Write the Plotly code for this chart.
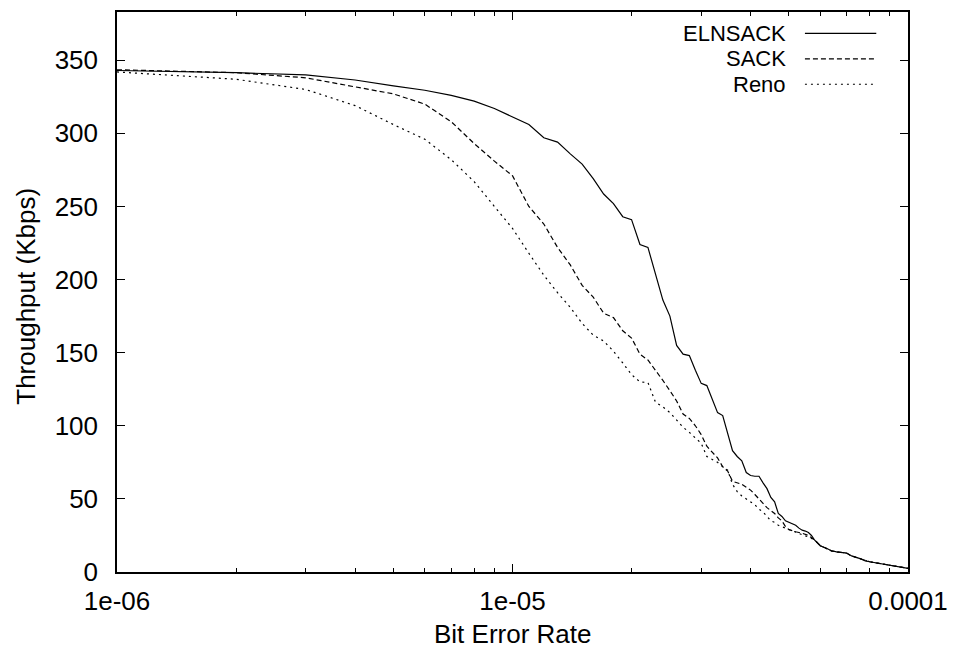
import plotly.graph_objects as go

# Bit error rate samples (in units of 1e-6) and throughput (Kbps)
eln_k = list(range(1, 60)) + list(range(60, 101, 2))
eln_y = [343, 341.5, 340, 336.5, 332.5, 329.5, 326, 322, 317, 311,
         306, 297, 294, 286, 279, 269, 258.5, 252, 243, 241,
         224, 222, 203, 186, 175, 155, 149, 148, 138, 129,
         127.5, 118, 109, 107, 95, 83, 79, 76, 68, 66,
         65.5, 65.5, 61, 57, 51, 48, 40, 38, 35, 34,
         33, 32, 30, 28.6, 28, 27, 25, 22, 20,
         18, 16.4, 14.5, 13.8, 13.4, 13, 11, 10, 9, 7.5,
         7, 6.5, 6, 5.6, 5.2, 5, 4.5, 3.8, 3.2, 2.8, 2.5]

sack_k = list(range(1, 51)) + [52, 54, 56, 58] + list(range(60, 101, 2))
sack_y = [343.5, 341.5, 338, 332, 327, 320, 308, 293, 281, 271,
          250, 238, 222, 210, 196, 188, 177, 174, 165, 160,
          149, 145, 138, 131, 124, 117, 108, 105, 100, 94,
          86, 82, 78, 72, 69, 62, 61, 60, 58, 56,
          53, 50, 47, 44, 42, 40, 37, 35, 31, 29,
          27.5, 26.5, 25, 22,
          18, 16.2, 14.5, 13.8, 13.3, 12.8, 11, 10, 9, 7.6,
          7, 6.5, 6, 5.6, 5.2, 5, 4.5, 3.8, 3.2, 2.8, 2.5]

reno_k = list(range(1, 51)) + [52, 54, 56, 58] + list(range(60, 101, 2))
reno_y = [342, 337, 330, 319, 306, 296, 282, 267, 250, 235,
          218, 203, 191, 181, 170, 162, 158, 151, 143, 135,
          130, 129.6, 116, 113, 109, 104, 99, 95.5, 92, 88,
          79, 77, 75, 72, 69.6, 60, 55, 52, 50, 48,
          46, 43, 41, 38, 35, 34, 32, 31, 30, 29,
          27, 25.5, 24, 22,
          18, 16.2, 14.4, 13.7, 13.3, 12.8, 11, 10, 9, 7.6,
          7, 6.5, 6, 5.6, 5.2, 5, 4.5, 3.8, 3.2, 2.8, 2.5]

series_names = ["ELNSACK", "SACK", "Reno"]
series_dash = ["solid", "5px,3px", "2px,4px"]

x_tickvals = [1e-6, 1e-5, 1e-4]
x_ticktext = ["1e-06", "1e-05", "0.0001"]
x_minor = [m * d for d in (1e-6, 1e-5) for m in range(2, 10)]
y_tickvals = [0, 50, 100, 150, 200, 250, 300, 350]

FONT = "Liberation Sans, Arial, sans-serif"
FS = 26
KEY_FS = 22

fig = go.Figure()
for name, ks, ys, dash in zip(series_names, [eln_k, sack_k, reno_k],
                              [eln_y, sack_y, reno_y], series_dash):
    fig.add_trace(go.Scatter(
        x=[k * 1e-6 for k in ks], y=ys, mode="lines", name=name,
        line=dict(color="black", width=1.2, dash=dash), showlegend=False))

# gnuplot-style key: right-aligned label then sample line
key_rows = [0.9617, 0.9164, 0.871]
for name, dash, yy in zip(series_names, series_dash, key_rows):
    fig.add_annotation(x=0.8471, y=yy, xref="paper", yref="paper",
                       text=name, showarrow=False, xanchor="right",
                       yanchor="middle", borderpad=0,
                       font=dict(family=FONT, size=KEY_FS, color="black"))
    fig.add_shape(type="line", xref="paper", yref="paper",
                  x0=0.8697, x1=0.9599, y0=yy, y1=yy,
                  line=dict(color="black", width=1.2, dash=dash))

fig.add_annotation(x=0.5, y=-0.1103, xref="paper", yref="paper",
                   text="Bit Error Rate", showarrow=False, xanchor="center",
                   yanchor="middle", borderpad=0,
                   font=dict(family=FONT, size=FS, color="black"))
fig.add_annotation(x=-0.1153, y=0.493, xref="paper", yref="paper",
                   text="Throughput (Kbps)", showarrow=False, textangle=-90,
                   xanchor="center", yanchor="middle",
                   font=dict(family=FONT, size=FS, color="black"))

fig.update_layout(
    width=958, height=653,
    margin=dict(l=117, r=43, t=10, b=81),
    paper_bgcolor="white", plot_bgcolor="white",
    font=dict(family=FONT, size=FS, color="black"),
    xaxis=dict(type="log", range=[-6, -4], tickmode="array",
               tickvals=x_tickvals, ticktext=x_ticktext,
               ticks="inside", ticklen=8, tickwidth=1, tickcolor="black",
               showline=True, linecolor="black", linewidth=1.5,
               mirror="allticks", showgrid=False, zeroline=False,
               ticklabelstandoff=5,
               minor=dict(tickmode="array", tickvals=x_minor, ticks="inside",
                          ticklen=4, tickwidth=1, tickcolor="black", showgrid=False)),
    yaxis=dict(range=[0, 383], tickmode="array", tickvals=y_tickvals,
               ticks="inside", ticklen=8, tickwidth=1, tickcolor="black",
               showline=True, linecolor="black", linewidth=1.5,
               mirror="allticks", showgrid=False, zeroline=False,
               ticklabelstandoff=12),
)

fig.write_html("out.html")
